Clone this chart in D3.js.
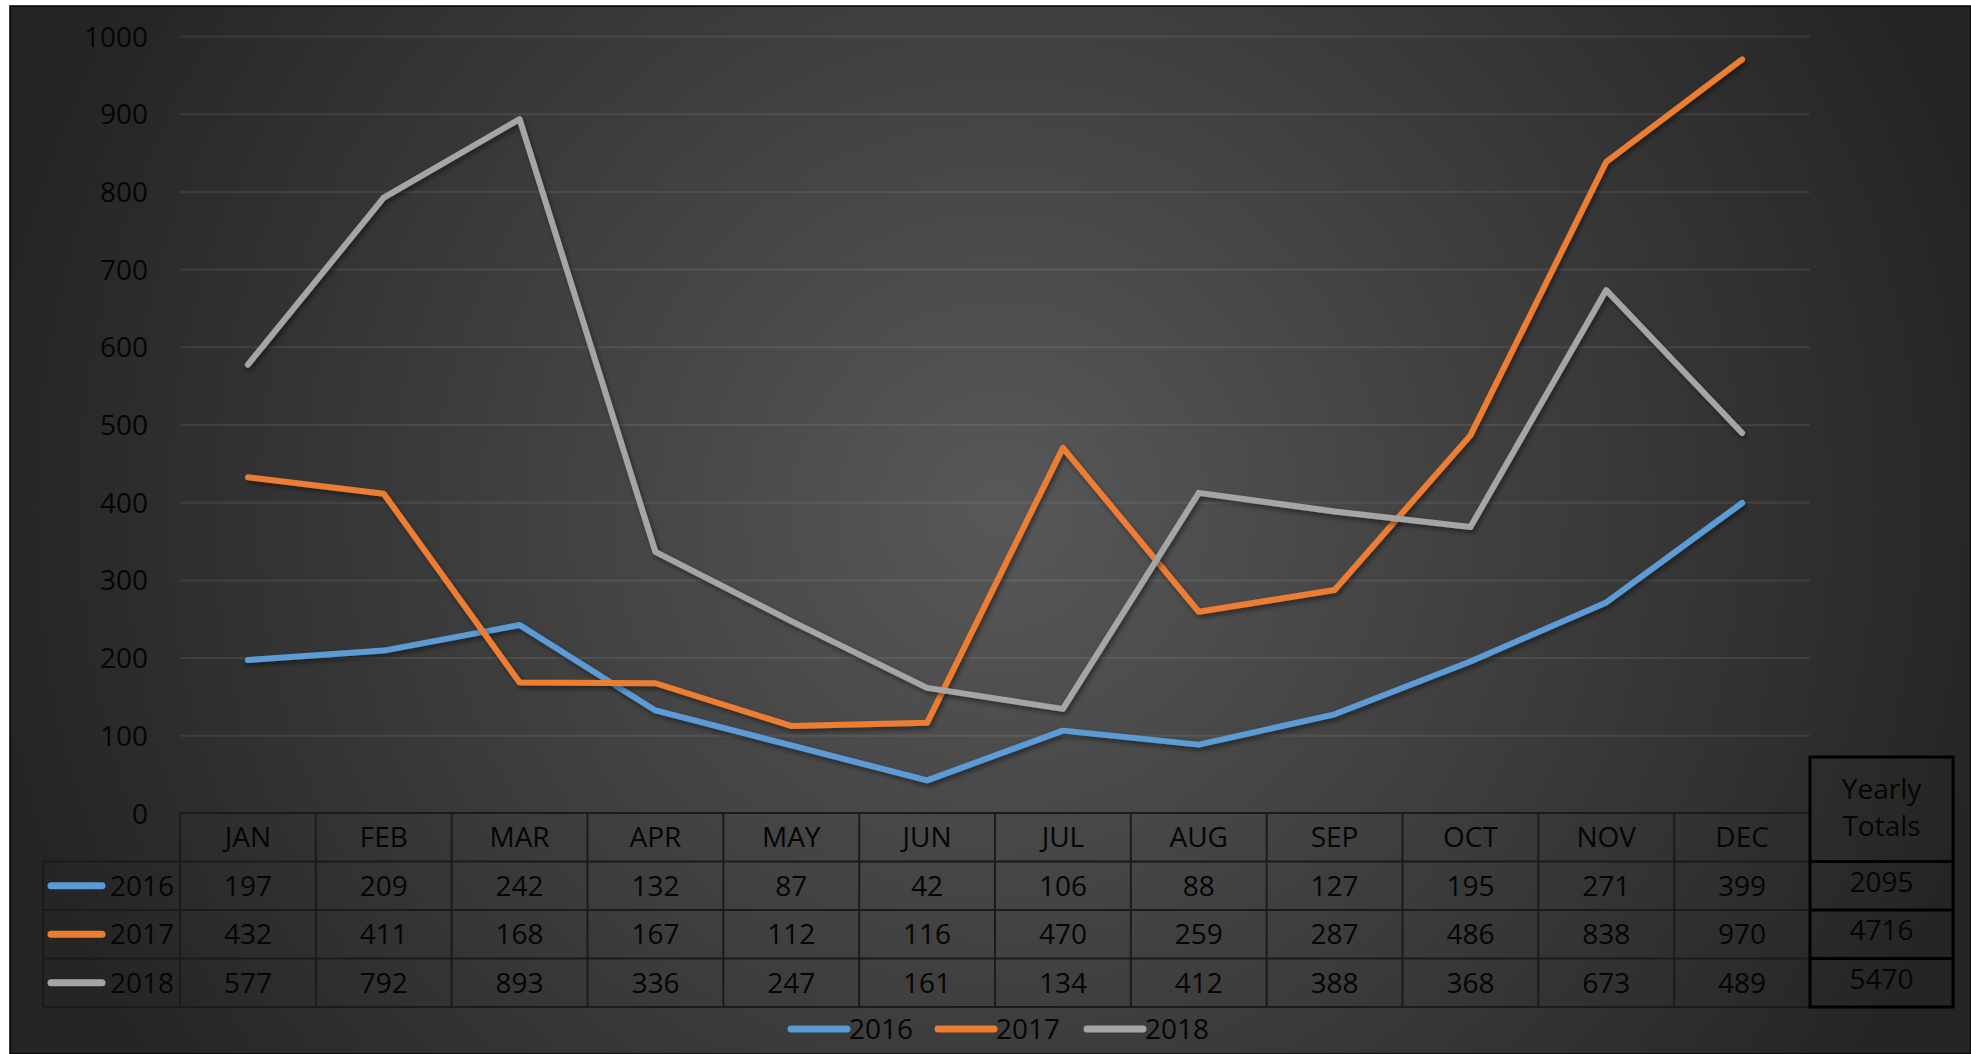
<!DOCTYPE html>
<html>
<head>
<meta charset="utf-8">
<script src="https://cdn.jsdelivr.net/npm/d3@7"></script>
<style>
    html, body { margin: 0; padding: 0; background: #ffffff; }
    svg { display: block; }
    text { font-family: "Open Sans", "Noto Sans", sans-serif; fill: #050505; font-weight: 500; }
</style>
</head>
<body>
<div id="chart"></div>
<script>
    var months = ['JAN', 'FEB', 'MAR', 'APR', 'MAY', 'JUN', 'JUL', 'AUG', 'SEP', 'OCT', 'NOV', 'DEC'];
    var years = ['2016', '2017', '2018'];
    var values2016 = [197, 209, 242, 132, 87, 42, 106, 88, 127, 195, 271, 399];
    var values2017 = [432, 411, 168, 167, 112, 116, 470, 259, 287, 486, 838, 970];
    var values2018 = [577, 792, 893, 336, 247, 161, 134, 412, 388, 368, 673, 489];
    var yTicks = [0, 100, 200, 300, 400, 500, 600, 700, 800, 900, 1000];
    var lineColors = ['#5b9bd5', '#ed7d31', '#a5a5a5'];

    var WIDTH = 1971, HEIGHT = 1054;
    // plot area edges (the table hangs below y(0))
    var PLOT = {left: 180, right: 1810, top: 36, bottom: 813};
    var ROW_HEIGHT = 48.5;
    var TOTALS_BOX = {left: 1810, right: 1953, top: 757};
    var FONT_SIZE = 28;

    var series = [values2016, values2017, values2018].map(function(vals, i) {
        return {name: years[i], color: lineColors[i], values: vals, total: d3.sum(vals)};
    });

    var svg = d3.select('#chart').append('svg')
        .attr('width', WIDTH)
        .attr('height', HEIGHT);

    var defs = svg.append('defs');
    var grad = defs.append('radialGradient')
        .attr('id', 'bg')
        .attr('gradientUnits', 'userSpaceOnUse')
        .attr('cx', 1000).attr('cy', 510).attr('r', 1010);
    grad.append('stop').attr('offset', '0%').attr('stop-color', '#585858');
    grad.append('stop').attr('offset', '100%').attr('stop-color', '#252525');

    var shadow = defs.append('filter').attr('id', 'shadow')
        .attr('x', '-5%').attr('y', '-5%').attr('width', '110%').attr('height', '110%');
    shadow.append('feDropShadow')
        .attr('dx', 2).attr('dy', 3).attr('stdDeviation', 2.5)
        .attr('flood-color', '#000').attr('flood-opacity', 0.45);

    // chart background
    svg.append('rect')
        .attr('x', 10).attr('y', 6)
        .attr('width', WIDTH - 10).attr('height', HEIGHT - 6)
        .attr('fill', 'url(#bg)')
        .attr('stroke', '#000').attr('stroke-width', 1.5);

    // scales
    var x = d3.scaleBand().domain(months).range([PLOT.left, PLOT.right]);
    var y = d3.scaleLinear().domain([0, 1000]).range([PLOT.bottom, PLOT.top]);
    var cx = function(m) { return x(m) + x.bandwidth() / 2; };

    // gridlines
    svg.append('g')
        .attr('class', 'grid')
        .attr('transform', 'translate(' + PLOT.left + ',0)')
        .call(d3.axisLeft(y).tickValues(yTicks.slice(1)).tickSize(-(PLOT.right - PLOT.left)).tickFormat(''))
        .call(function(g) { g.select('.domain').remove(); })
        .selectAll('line')
        .attr('stroke', 'rgba(255,255,255,0.08)')
        .attr('stroke-width', 2);

    // y axis labels
    svg.append('g')
        .attr('class', 'y axis')
        .attr('transform', 'translate(148,0)')
        .call(d3.axisLeft(y).tickValues(yTicks).tickSize(0).tickPadding(0).tickFormat(d3.format('d')))
        .call(function(g) { g.select('.domain').remove(); })
        .selectAll('text')
        .attr('font-size', FONT_SIZE)
        .attr('font-family', '"Open Sans", sans-serif')
        .attr('fill', '#050505')
        .attr('dy', '0.36em');

    // data table
    var table = svg.append('g').attr('class', 'table');
    var gridColor = '#1b1b1b';
    var rowTop = function(i) { return PLOT.bottom + ROW_HEIGHT * i; };
    var legendLeft = 43;

    // horizontal table lines
    table.append('line')
        .attr('x1', PLOT.left).attr('x2', PLOT.right)
        .attr('y1', rowTop(0)).attr('y2', rowTop(0));
    d3.range(1, 5).forEach(function(i) {
        table.append('line')
            .attr('x1', legendLeft).attr('x2', PLOT.right)
            .attr('y1', rowTop(i)).attr('y2', rowTop(i));
    });
    // vertical table lines
    table.append('line')
        .attr('x1', legendLeft).attr('x2', legendLeft)
        .attr('y1', rowTop(1)).attr('y2', rowTop(4));
    months.forEach(function(m) {
        table.append('line')
            .attr('x1', x(m)).attr('x2', x(m))
            .attr('y1', rowTop(0)).attr('y2', rowTop(4));
    });
    table.selectAll('line').attr('stroke', gridColor).attr('stroke-width', 2);

    // month header
    table.selectAll('.month')
        .data(months)
        .enter().append('text')
        .attr('class', 'month')
        .attr('x', cx)
        .attr('y', rowTop(0) + ROW_HEIGHT / 2 + 10)
        .attr('text-anchor', 'middle')
        .attr('font-size', FONT_SIZE)
        .text(function(d) { return d; });

    // rows
    series.forEach(function(s, i) {
        var top = rowTop(i + 1);
        var mid = top + ROW_HEIGHT / 2;
        table.append('line')
            .attr('x1', 51).attr('x2', 102)
            .attr('y1', mid).attr('y2', mid)
            .attr('stroke', s.color).attr('stroke-width', 7)
            .attr('stroke-linecap', 'round');
        table.append('text')
            .attr('x', 174).attr('y', mid + 10)
            .attr('text-anchor', 'end')
            .attr('font-size', FONT_SIZE)
            .text(s.name);
        table.selectAll('.v' + i)
            .data(s.values)
            .enter().append('text')
            .attr('class', 'v' + i)
            .attr('x', function(d, j) { return cx(months[j]); })
            .attr('y', mid + 10)
            .attr('text-anchor', 'middle')
            .attr('font-size', FONT_SIZE)
            .text(function(d) { return d; });
    });

    // yearly totals box
    var totals = svg.append('g').attr('class', 'totals');
    var boxMid = (TOTALS_BOX.left + TOTALS_BOX.right) / 2;
    totals.append('rect')
        .attr('x', TOTALS_BOX.left).attr('y', TOTALS_BOX.top)
        .attr('width', TOTALS_BOX.right - TOTALS_BOX.left)
        .attr('height', rowTop(4) - TOTALS_BOX.top)
        .attr('fill', 'none').attr('stroke', '#000').attr('stroke-width', 3);
    d3.range(1, 4).forEach(function(i) {
        totals.append('line')
            .attr('x1', TOTALS_BOX.left).attr('x2', TOTALS_BOX.right)
            .attr('y1', rowTop(i)).attr('y2', rowTop(i))
            .attr('stroke', '#000').attr('stroke-width', 3);
    });
    totals.append('text')
        .attr('x', boxMid).attr('y', TOTALS_BOX.top + 42)
        .attr('text-anchor', 'middle').attr('font-size', FONT_SIZE)
        .text('Yearly');
    totals.append('text')
        .attr('x', boxMid).attr('y', TOTALS_BOX.top + 79)
        .attr('text-anchor', 'middle').attr('font-size', FONT_SIZE)
        .text('Totals');
    totals.selectAll('.total')
        .data(series)
        .enter().append('text')
        .attr('class', 'total')
        .attr('x', boxMid)
        .attr('y', function(d, i) { return rowTop(i + 1) + ROW_HEIGHT / 2 + 6; })
        .attr('text-anchor', 'middle')
        .attr('font-size', FONT_SIZE)
        .text(function(d) { return d.total; });

    // series lines
    var valueLine = d3.line()
        .x(function(d, j) { return cx(months[j]); })
        .y(function(d) { return y(d); });

    svg.append('g').attr('class', 'lines')
        .selectAll('path')
        .data(series)
        .enter().append('path')
        .attr('d', function(d) { return valueLine(d.values); })
        .attr('fill', 'none')
        .attr('stroke', function(d) { return d.color; })
        .attr('stroke-width', 6)
        .attr('stroke-linecap', 'round')
        .attr('stroke-linejoin', 'round')
        .attr('filter', 'url(#shadow)');

    // legend
    var legend = svg.append('g').attr('class', 'legend');
    var legendX = [791, 938, 1087];
    series.forEach(function(s, i) {
        legend.append('line')
            .attr('x1', legendX[i]).attr('x2', legendX[i] + 56)
            .attr('y1', 1029).attr('y2', 1029)
            .attr('stroke', s.color).attr('stroke-width', 7)
            .attr('stroke-linecap', 'round');
        legend.append('text')
            .attr('x', legendX[i] + 58).attr('y', 1039)
            .attr('font-size', FONT_SIZE)
            .text(s.name);
    });
</script>
</body>
</html>
